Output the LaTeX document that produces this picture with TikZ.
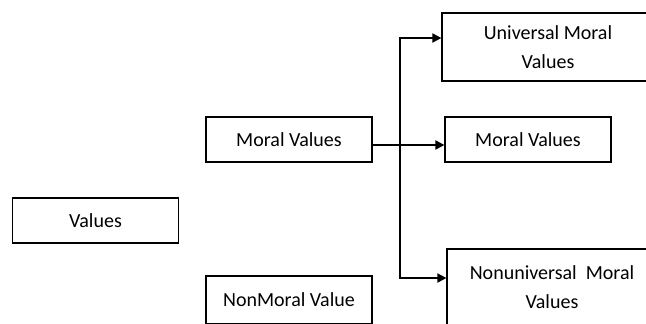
\documentclass[tikz,border=0pt]{standalone}
\usepackage{fontspec}
\setmainfont{Carlito}
\usepackage{tikz}
\usetikzlibrary{arrows.meta,positioning}

\begin{document}
\begin{tikzpicture}[
    x=0.5pt, y=-0.5pt,
    baseblock/.style={draw, line width=0.6pt, align=center,
                      font=\fontsize{10}{14.5}\selectfont, inner sep=2pt},
    stdblock/.style={baseblock, minimum width=83pt, minimum height=22.5pt},
    wideblock/.style={baseblock, minimum width=110pt},
    arrow/.style={-{Triangle[length=4.5pt,width=4.5pt]}, line width=0.9pt},
  ]
    \useasboundingbox (0,0) rectangle (646,323);

    % left column
    \node[stdblock] (values) at (95.5,220.5) {Values};
    \node[stdblock] (moral) at (289,139.5) {Moral Values};
    \node[stdblock, minimum height=24pt] (nonmoral) at (289,300) {NonMoral Value};

    % right column
    \node[wideblock, minimum height=34pt] (univ) at (552,47)
          {\hspace*{-4pt}Universal Moral\\\hspace*{-4pt}Values};
    \node[stdblock] (moralr) at (528,139.5) {Moral Values};
    \node[wideblock, minimum height=38pt] (nonuniv) at (557,287)
          {\hspace*{-5pt}Nonuniversal\ \ Moral\\\hspace*{-5pt}Values};

    % connectors
    \coordinate (jtop) at (400,38);
    \coordinate (jbot) at (400,278);
    \draw[arrow] ([yshift=-2.75pt]moral.east) -- ([yshift=-2.75pt]moralr.west);
    \draw[{Triangle[length=4.5pt,width=4.5pt]}-{Triangle[length=4.5pt,width=4.5pt]},
          line width=0.9pt]
          (univ.west |- jtop) -- (jtop) -- (jbot) -- (nonuniv.west |- jbot);
\end{tikzpicture}
\end{document}
